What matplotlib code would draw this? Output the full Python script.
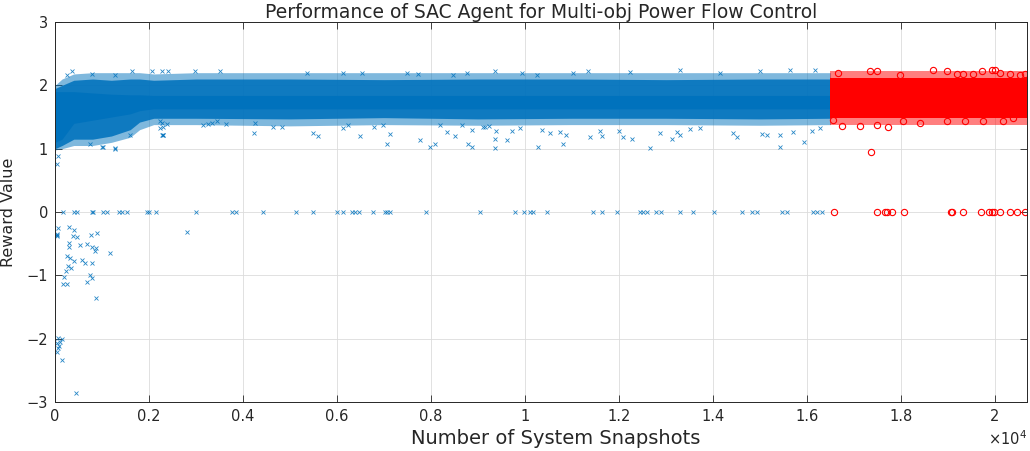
"""Scatter of SAC agent reward values versus system snapshots."""

import matplotlib.pyplot as plt

plt.rcParams["font.family"] = ["DejaVu Sans"]

BLUE = "#0072BD"
RED = "#FF0000"

# dense training band (blue), envelope
train_x = [0, 150, 400, 800, 1200, 1600, 1800, 2100, 3000, 5000, 7000,
           9000, 11000, 13000, 15000, 16500]
train_solid_lo = [1.0, 1.05, 1.15, 1.15, 1.2, 1.3, 1.42, 1.48, 1.48, 1.47,
                  1.49, 1.47, 1.48, 1.48, 1.47, 1.48]
train_solid_hi = [1.95, 2.0, 2.08, 2.1, 2.08, 2.1, 2.1, 2.08, 2.1, 2.1,
                  2.09, 2.1, 2.1, 2.09, 2.1, 2.1]
train_outer_lo = [0.98, 1.0, 1.05, 1.05, 1.1, 1.18, 1.3, 1.38, 1.38, 1.36,
                  1.38, 1.37, 1.38, 1.38, 1.37, 1.38]
train_outer_hi = [2.0, 2.1, 2.18, 2.2, 2.2, 2.2, 2.2, 2.18, 2.2, 2.2,
                  2.2, 2.2, 2.2, 2.2, 2.2, 2.2]
train_core_lo = [1.1, 1.15, 1.4, 1.45, 1.5, 1.55, 1.6, 1.63, 1.63, 1.63,
                 1.63, 1.63, 1.63, 1.63, 1.63, 1.63]
train_core_hi = [1.9, 1.9, 1.9, 1.88, 1.86, 1.85, 1.85, 1.84, 1.84, 1.84,
                 1.84, 1.84, 1.84, 1.84, 1.84, 1.84]

# dense test band (red)
test_x = [16500, 20680]
test_solid_lo = [1.48, 1.48]
test_solid_hi = [2.12, 2.12]
test_outer_lo = [1.38, 1.38]
test_outer_hi = [2.22, 2.22]

# sparse training points outside the band
train_pts_x = [
    # zero reward
    177, 404, 462, 781, 816, 1029, 1114, 1369, 1421, 1528, 1951, 2000, 2149,
    3000, 3760, 3851, 4432, 5128, 5497, 5994, 6135, 6313, 6384, 6476, 6760,
    7023, 7072, 7129, 7895, 9044, 9789, 9980, 10108, 10179, 10463, 11455,
    11632, 11965, 12448, 12518, 12603, 12789, 12888, 13298, 13582, 14023,
    14610, 14823, 14929, 15461, 15567, 16121, 16206, 16313,
    # negative rewards
    70, 43, 45, 40, 305, 404, 390, 462, 759, 901, 2802, 305, 305, 532, 688,
    781, 872, 851, 1170, 262, 319, 404, 568, 638, 781, 284, 334, 234, 192,
    745, 781, 674, 163, 262, 872, 70, 142, 106, 49, 92, 64, 49, 142, 447,
    # between 0 and 1
    70, 49,
    # below the band
    745, 994, 1277, 1596, 2234, 2270, 1029, 1277, 2305, 2234,
    2270, 2376, 2291, 2291, 3156, 3262, 3334, 3440, 3639, 4256, 4235, 4646,
    4823, 5497, 5603, 6135, 6241, 6490, 6788, 6987, 7129, 7058, 7767, 7980,
    8086, 8193, 8335, 8512, 8654, 8796, 8867, 8867, 9115, 9149, 9242, 9385,
    9363, 9612, 9363, 9717, 9895, 10285, 10356, 10533, 10746, 10874, 10817,
    11384, 11597, 11632, 12009, 12094, 12271, 12661, 12874, 13122, 13229,
    13300, 13513, 13725, 14434, 14519, 15037, 15143, 15427, 15427, 15711,
    15937, 16101, 16278,
    # above the band
    248, 355, 781, 1277, 1632, 2058, 2270, 2412, 2979, 3511, 5356, 6135,
    6526, 7483, 7731, 8476, 8760, 9363, 9931, 10250, 11030, 11349, 12236,
    13300, 14150, 15000, 15640, 16170,
]
train_pts_y = [
    0, 0, 0, 0, 0, 0, 0, 0, 0, 0, 0, 0, 0,
    0, 0, 0, 0, 0, 0, 0, 0, 0, 0, 0, 0,
    0, 0, 0, 0, 0, 0, 0, 0, 0, 0, 0,
    0, 0, 0, 0, 0, 0, 0, 0, 0, 0,
    0, 0, 0, 0, 0, 0, 0, 0,
    -0.26, -0.34, -0.36, -0.38, -0.24, -0.28, -0.38, -0.39, -0.36, -0.33,
    -0.32, -0.49, -0.55, -0.52, -0.51, -0.56, -0.57, -0.61, -0.65, -0.69,
    -0.73, -0.77, -0.75, -0.81, -0.81, -0.86, -0.89, -0.93, -1.02, -1.0,
    -1.04, -1.1, -1.14, -1.14, -1.35, -1.99, -2.01, -2.05, -2.07, -2.12,
    -2.15, -2.21, -2.34, -2.86,
    0.88, 0.76,
    1.07, 1.03, 1.01, 1.22, 1.43, 1.22, 1.03, 0.99, 1.22, 1.32,
    1.40, 1.39, 1.35, 1.22, 1.37, 1.39, 1.41, 1.43, 1.39, 1.40, 1.25, 1.34,
    1.35, 1.25, 1.20, 1.32, 1.37, 1.20, 1.35, 1.37, 1.23, 1.08, 1.13, 1.03,
    1.08, 1.37, 1.27, 1.20, 1.37, 1.07, 1.02, 1.29, 1.35, 1.35, 1.36, 1.28,
    1.16, 1.14, 1.01, 1.28, 1.32, 1.03, 1.29, 1.24, 1.27, 1.22, 1.08,
    1.19, 1.28, 1.20, 1.28, 1.19, 1.15, 1.01, 1.24, 1.15, 1.27,
    1.22, 1.31, 1.32, 1.24, 1.19, 1.23, 1.22, 1.22, 1.03, 1.27,
    1.11, 1.28, 1.32,
    2.16, 2.22, 2.18, 2.16, 2.23, 2.22, 2.23, 2.23, 2.22, 2.23, 2.2, 2.2,
    2.2, 2.2, 2.18, 2.17, 2.2, 2.22, 2.2, 2.17, 2.2, 2.22, 2.21,
    2.24, 2.2, 2.22, 2.25, 2.24,
]

# sparse test points outside the band
test_pts_x = [
    16580, 17500, 17660, 17710, 17800, 18070, 19060, 19090, 19330, 19700,
    19880, 19930, 19980, 20110, 20320, 20460, 20640,
    17360,
    16667, 17340, 17482, 17979, 18688, 18972, 19185, 19326, 19539, 19716,
    19929, 20000, 20106, 20319, 20532, 20640,
    16738, 17128, 17482, 17730, 18050, 18404, 18972, 19362, 19752, 20177,
    20390, 16560,
]
test_pts_y = [
    0, 0, 0, 0, 0, 0, 0, 0, 0, 0,
    0, 0, 0, 0, 0, 0, 0,
    0.95,
    2.20, 2.22, 2.23, 2.16, 2.24, 2.22, 2.18, 2.18, 2.18, 2.22,
    2.25, 2.24, 2.20, 2.18, 2.16, 2.18,
    1.36, 1.36, 1.37, 1.35, 1.43, 1.41, 1.43, 1.44, 1.44, 1.44,
    1.48, 1.45,
]

x_ticks = [0, 2000, 4000, 6000, 8000, 10000, 12000, 14000, 16000, 18000, 20000]
x_tick_labels = ["0", "0.2", "0.4", "0.6", "0.8", "1", "1.2", "1.4", "1.6", "1.8", "2"]
y_ticks = [-3, -2, -1, 0, 1, 2, 3]

fig = plt.figure(figsize=(10.3, 4.51), dpi=100)
ax = fig.add_axes([0.0534, 0.1086, 0.9436, 0.8426])

# dense bands: faint outer fringe, mostly solid body, fully solid core
ax.fill_between(train_x, train_outer_lo, train_outer_hi, color=BLUE, alpha=0.5, lw=0)
ax.fill_between(train_x, train_solid_lo, train_solid_hi, color=BLUE, alpha=0.88, lw=0)
ax.fill_between(train_x, train_core_lo, train_core_hi, color=BLUE, lw=0)
ax.fill_between(test_x, test_outer_lo, test_outer_hi, color=RED, alpha=0.5, lw=0)
ax.fill_between(test_x, test_solid_lo, test_solid_hi, color=RED, lw=0)

# sparse points
ax.plot(train_pts_x, train_pts_y, "x", color=BLUE, ms=3.5, mew=0.6, alpha=0.85)
ax.plot(test_pts_x, test_pts_y, "o", mfc="none", mec=RED, ms=4.5, mew=0.8)

ax.set_xlim(0, 20680)
ax.set_ylim(-3, 3)
ax.set_xticks(x_ticks)
ax.set_xticklabels(x_tick_labels)
ax.set_yticks(y_ticks)
ax.tick_params(direction="in", length=5, width=0.6, top=True, right=True,
               labelsize=10.5, colors="#262626", pad=5)
ax.grid(True, color="#dcdcdc", lw=0.6)
ax.set_axisbelow(True)
for sp in ax.spines.values():
    sp.set_color("#262626")
    sp.set_linewidth(0.7)

ax.set_title("Performance of SAC Agent for Multi-obj Power Flow Control",
             fontsize=13.5, pad=3, color="#262626")
ax.set_xlabel("Number of System Snapshots", fontsize=14, color="#262626")
ax.xaxis.set_label_coords(0.515, -0.07, transform=ax.transAxes)
ax.xaxis.label.set_va("top")
ax.set_ylabel("Reward Value", fontsize=11.5, color="#262626")
ax.yaxis.set_label_coords(-0.04, 0.5, transform=ax.transAxes)
ax.text(1.0, -0.072, r"$\times10^4$", transform=ax.transAxes,
        ha="right", va="top", fontsize=10.5, color="#262626")

fig.savefig("out.png", dpi=100)
